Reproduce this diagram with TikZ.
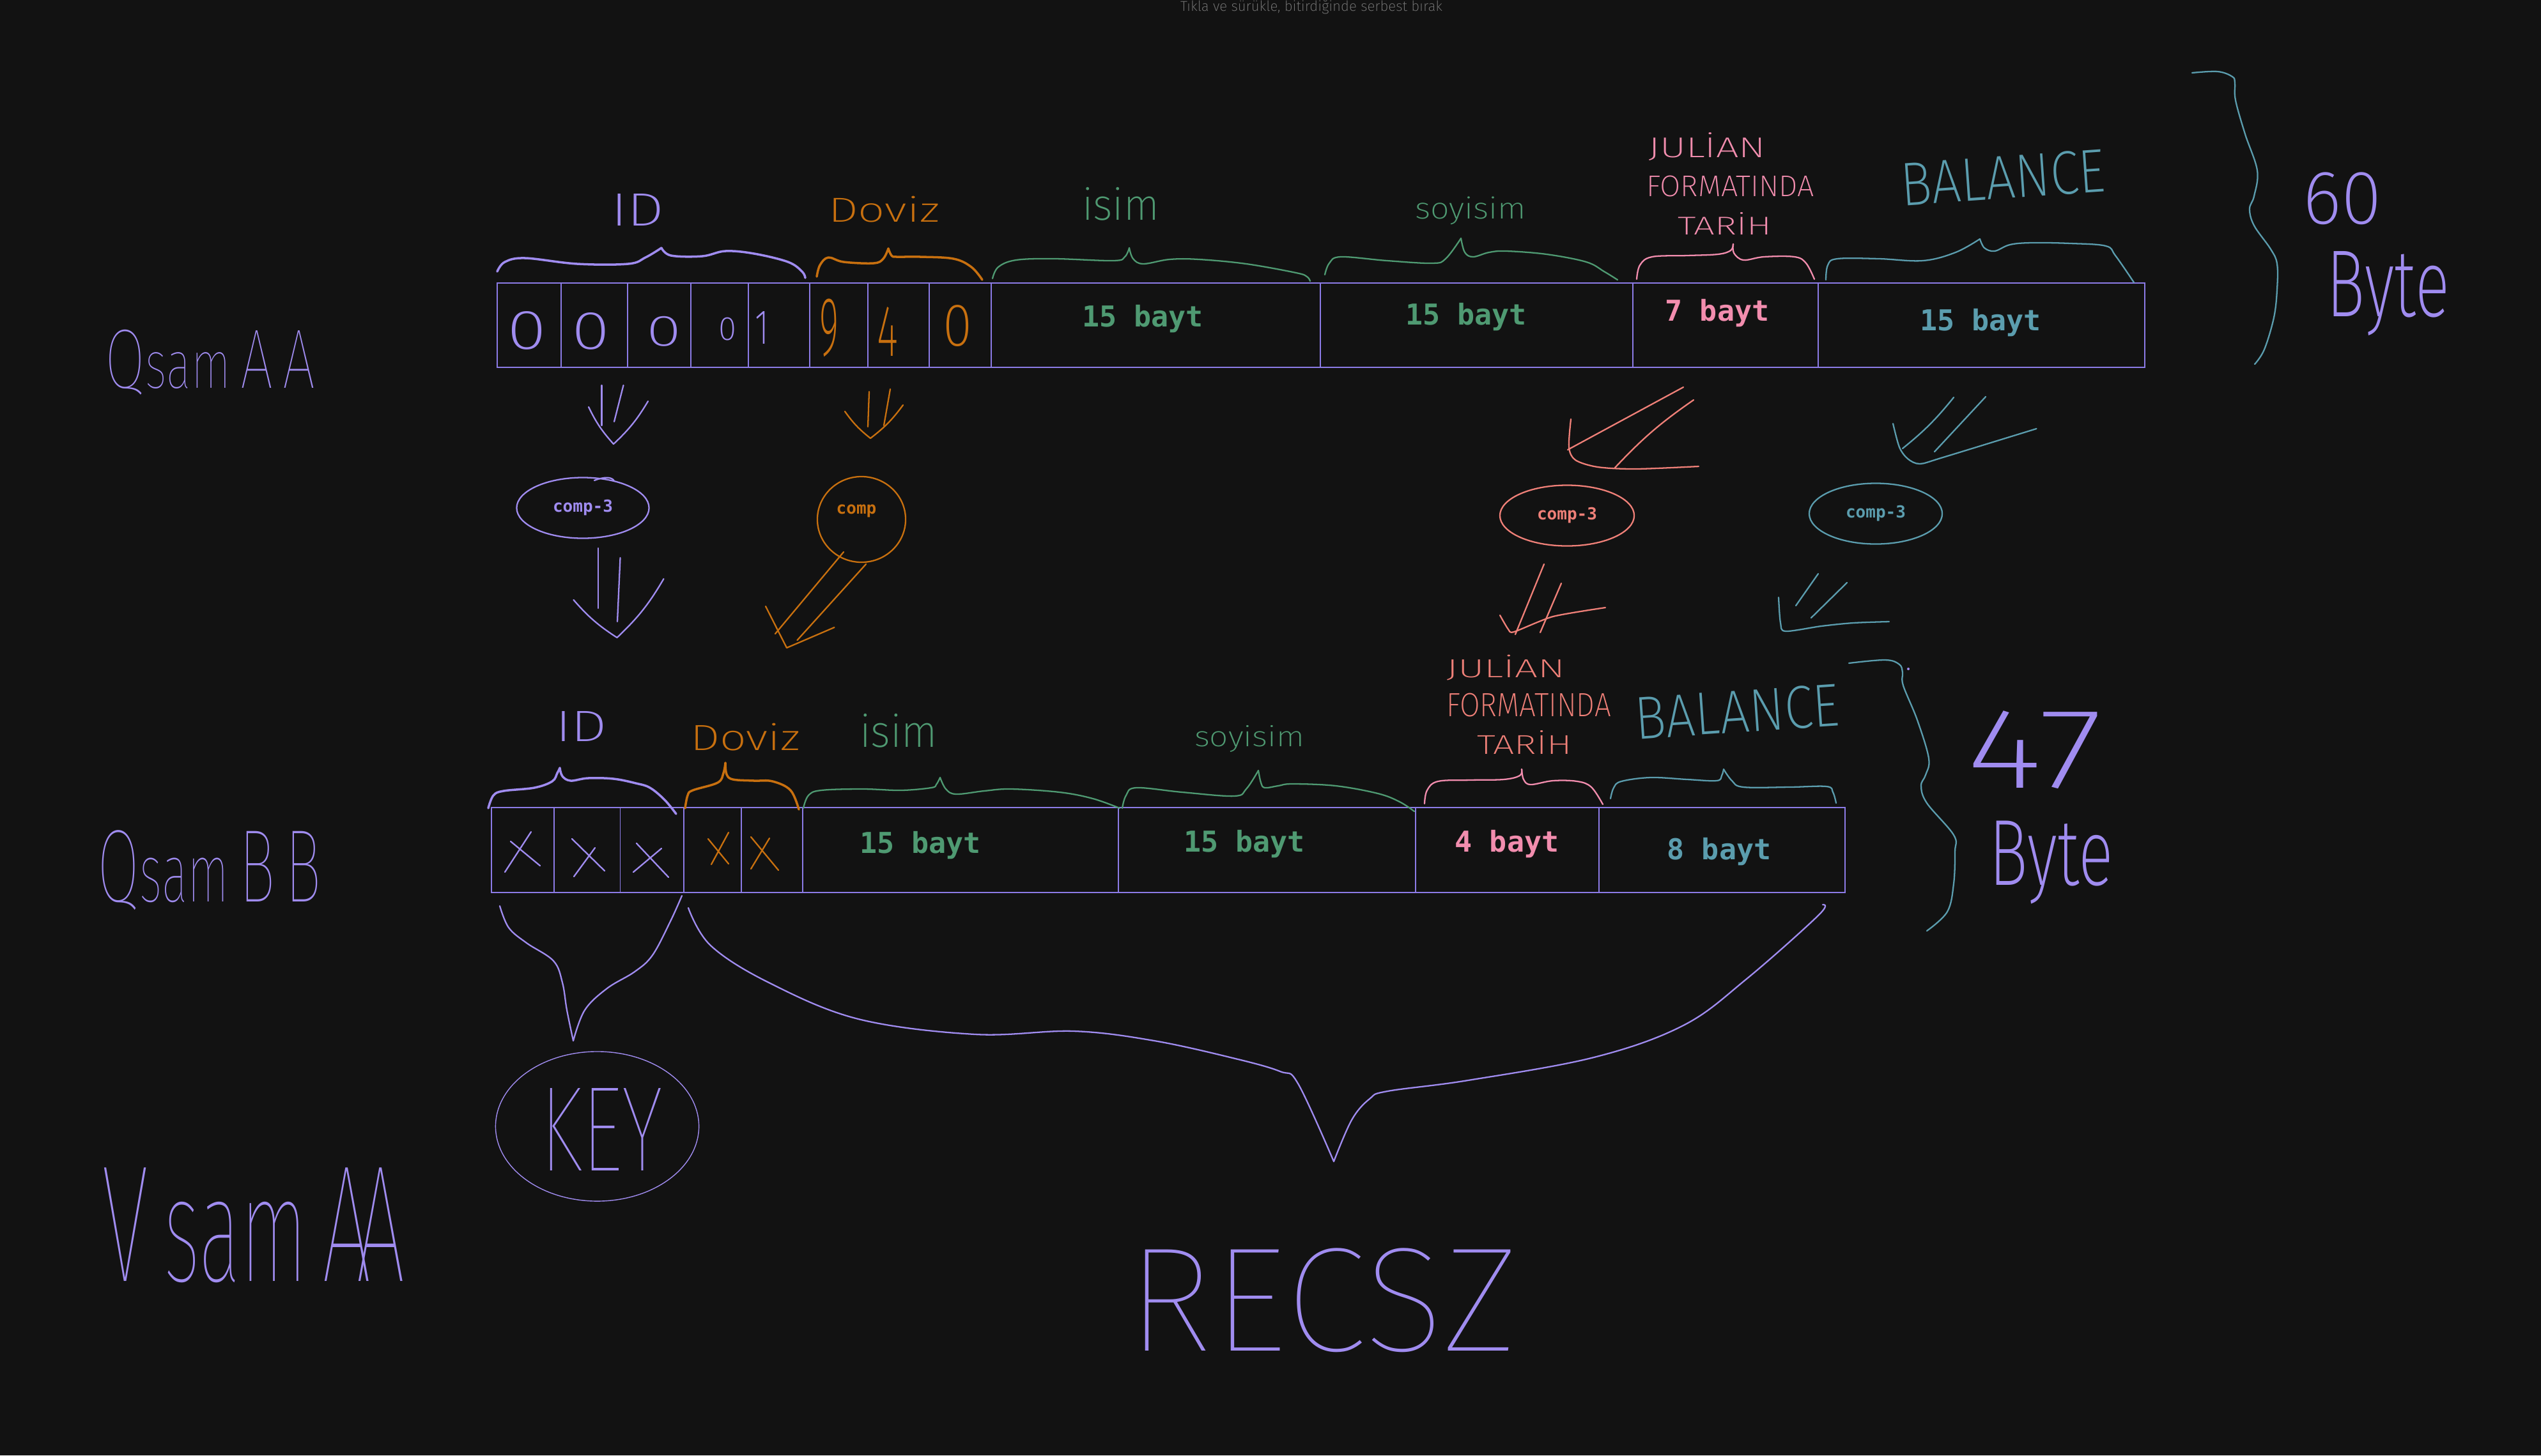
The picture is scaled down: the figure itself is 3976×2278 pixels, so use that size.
\documentclass[tikz,border=0pt]{standalone}
\usepackage{fontspec}
\usepackage{graphicx}
\usetikzlibrary{shapes.geometric}
\setmainfont{Fira Sans}
\IfFontExistsTF{Fira Sans ExtraLight}{\newfontfamily\hand{Fira Sans ExtraLight}}{%
  \IfFontExistsTF{Fira Sans Light}{\newfontfamily\hand{Fira Sans Light}}{%
    \IfFontExistsTF{Noto Sans Light}{\newfontfamily\hand{Noto Sans Light}}{\newfontfamily\hand{Fira Sans}}}}
\IfFontExistsTF{Fira Sans Thin}{\newfontfamily\handthin{Fira Sans Thin}}{%
  \IfFontExistsTF{Fira Sans ExtraLight}{\newfontfamily\handthin{Fira Sans ExtraLight}}{\let\handthin\hand}}
\newfontfamily\monof{DejaVu Sans Mono}
\newdimen\upx \upx=0.01cm
\newcommand\hw[3]{\resizebox*{#1\upx}{#2\upx}{#3}}
\definecolor{bg}{HTML}{121212}
\definecolor{cpur}{HTML}{A08CF0}
\definecolor{cline}{HTML}{8C7BE6}
\definecolor{corg}{HTML}{C8700F}
\definecolor{cgrn}{HTML}{4F9A72}
\definecolor{cpink}{HTML}{F28DAE}
\definecolor{csal}{HTML}{EF8078}
\definecolor{cteal}{HTML}{5B9DAE}
\definecolor{ccap}{HTML}{7A7A7A}
\tikzset{
  hpen/.style={line width=0.65pt, line cap=round, line join=round},
  hthick/.style={line width=1.0pt, line cap=round, line join=round},
  lbl/.style={inner sep=0pt, outer sep=0pt},
  baytlbl/.style={lbl, anchor=base, font=\monof\bfseries\fontsize{12.8}{14}\selectfont},
  compnode/.style={ellipse, hpen, inner sep=0pt, font=\monof\bfseries\fontsize{7.4}{9}\selectfont},
  tframe/.style={line width=0.7pt, draw=cline},
  tdiv/.style={line width=0.35pt, draw=cline},
}
\begin{document}
\begin{tikzpicture}[x=0.01cm, y=-0.01cm]
\fill[bg] (0,0) rectangle (3976,2278);
\useasboundingbox (0,0) rectangle (3976,2278);

% caption at the top edge
\node[lbl, anchor=base, text=ccap] (caption) at (2052,17) {\resizebox{410\upx}{!}{\hand Tıkla ve sürükle, bitirdiğinde serbest bırak}};

% ---------- left row names ----------
\node[lbl, text=cpur] (qsamaa) at (329,567) {\hw{328}{102}{\handthin Q{\footnotesize sam}\,A\,A}};
\node[lbl, text=cpur] (qsambb) at (328,1362) {\hw{350}{125}{\handthin Q{\footnotesize sam}\,B\,B}};
\node[lbl, text=cpur] (vsamaa) at (397,1918) {\hw{474}{180}{\handthin V\,{\small sam}\,A\!A}};

% ---------- top table ----------
\draw[tframe] (778,443) rectangle (3356,575);
\foreach \x in {878,982,1081,1171,1267,1358,1454,1551,2066,2555,2845} \draw[tdiv] (\x,443) -- (\x,575);

\node[lbl, text=cpur] (d1) at (824.5,517) {\hw{62}{60}{\hand 0}};
\node[lbl, text=cpur] (d2) at (924,518) {\hw{60}{58}{\hand 0}};
\node[lbl, text=cpur] (d3) at (1039,518.5) {\hw{55}{47}{\hand 0}};
\node[lbl, text=cpur] (d4) at (1138,515) {\hw{28}{36}{\hand 0}};
\node[lbl, text=cpur] (d5) at (1192,512.5) {\hw{22}{51}{\hand 1}};
\node[lbl, text=corg] (d6) at (1297,513.5) {\hw{30}{91}{\hand 9}};
\node[lbl, text=corg] (d7) at (1388.5,518.5) {\hw{33}{77}{\hand 4}};
\node[lbl, text=corg] (d8) at (1498.5,510.5) {\hw{46}{65}{\hand 0}};

\node[baytlbl, text=cgrn] (ta1) at (1788,511) {15 bayt};
\node[baytlbl, text=cgrn] (ta2) at (2294,508) {15 bayt};
\node[baytlbl, text=cpink] (ta3) at (2687,502) {7 bayt};
\node[baytlbl, text=cteal] (ta4) at (3099,517) {15 bayt};

% top labels
\node[lbl, text=cpur] (lidA) at (997.5,328) {\hw{83}{50}{\hand ID}};
\node[lbl, text=corg] (ldovA) at (1383,327.5) {\hw{174}{41}{\hand Doviz}};
\node[lbl, text=cgrn] (lisA) at (1753.5,319) {\hw{121}{52}{\hand isim}};
\node[lbl, text=cgrn] (lsoyA) at (2301,330) {\hw{174}{44}{\hand soyisim}};
\node[lbl, text=cpink] (ljA1) at (2671,230) {\hw{184}{44}{\hand JULİAN}};
\node[lbl, text=cpink] (ljA2) at (2707.5,291.5) {\hw{263}{33}{\hand FORMATINDA}};
\node[lbl, text=cpink] (ljA3) at (2698.5,349.5) {\hw{147}{35}{\hand TARİH}};
\node[lbl, text=cteal, rotate=4] (lbalA) at (3134,278) {\hw{320}{68}{\hand BALANCE}};

% top braces
\draw[hthick, cpur] plot[smooth, tension=0.6] coordinates {(778,425) (790,410) (822,404) (903,413) (983,413) (1010,403) (1035,388)};
\draw[hthick, cpur] plot[smooth, tension=0.6] coordinates {(1035,388) (1050,400) (1099,401) (1135,393) (1180,397) (1233,410) (1255,425) (1260,435)};
\draw[hthick, corg] plot[smooth, tension=0.6] coordinates {(1278,433) (1283,415) (1296,403) (1320,410) (1367,412) (1382,405) (1390,389)};
\draw[hthick, corg] plot[smooth, tension=0.6] coordinates {(1390,389) (1395,400) (1403,402) (1440,402) (1492,405) (1520,418) (1537,438)};
\draw[hpen, cgrn] plot[smooth, tension=0.6] coordinates {(1553,436) (1562,418) (1590,407) (1650,405) (1742,408) (1760,402) (1767,388)};
\draw[hpen, cgrn] plot[smooth, tension=0.6] coordinates {(1767,388) (1773,405) (1789,413) (1830,406) (1876,406) (1950,413) (2028,427) (2045,433) (2050,440)};
\draw[hpen, cgrn] plot[smooth, tension=0.6] coordinates {(2073,430) (2080,412) (2098,402) (2170,408) (2241,412) (2262,405) (2286,373)};
\draw[hpen, cgrn] plot[smooth, tension=0.6] coordinates {(2286,373) (2292,395) (2305,402) (2330,395) (2357,393) (2420,398) (2482,410) (2510,425) (2531,438)};
\draw[hpen, cpink] plot[smooth, tension=0.6] coordinates {(2561,437) (2566,415) (2585,402) (2640,400) (2688,398) (2708,392) (2712,382)};
\draw[hpen, cpink] plot[smooth, tension=0.6] coordinates {(2712,382) (2713,396) (2728,407) (2760,402) (2808,402) (2826,412) (2839,437)};
\draw[hpen, cteal] plot[smooth, tension=0.6] coordinates {(2857,438) (2860,415) (2875,405) (2940,405) (3009,408) (3060,395) (3098,374)};
\draw[hpen, cteal] plot[smooth, tension=0.6] coordinates {(3098,374) (3105,388) (3121,393) (3145,383) (3179,380) (3240,381) (3295,385) (3310,400) (3339,442)};

% right brace + 60 Byte
\draw[hpen, cteal] plot[smooth, tension=0.6] coordinates {(3430,114) (3470,112) (3493,120) (3497,130) (3498,157) (3513,210) (3532,267) (3527,307) (3520,327) (3527,353) (3553,390) (3563,413) (3563,453) (3558,497) (3543,547) (3528,570)};
\node[lbl, text=cpur] (n60) at (3665,311) {\hw{124}{82}{\hand 60}};
\node[lbl, text=cpur] (byteA) at (3736.5,459) {\hw{193}{132}{\hand Byte}};

% ---------- middle: arrows and comp ----------
\draw[hpen, cpur] (941.5,603) -- (941.5,666);
\draw[hpen, cpur] (975.5,603) -- (961,660);
\draw[hpen, cpur] (921,637) to[bend right=8] (960,695) to[bend right=8] (1014,628);
\draw[hpen, corg] (1360,613) -- (1358,668);
\draw[hpen, corg] (1393,609) -- (1383,666);
\draw[hpen, corg] (1322,644) to[bend right=8] (1362,686) to[bend right=8] (1413,634);

\node[compnode, draw=cpur, text=cpur, minimum width=2.07cm, minimum height=0.95cm] (comp1) at (912,795) {comp-3};
\draw[hpen, cpur] (930,752) .. controls (945,746) and (958,746) .. (961,753);
\node[ellipse, hpen, draw=corg, minimum width=1.38cm, minimum height=1.34cm, inner sep=0pt] (comp2) at (1348,813) {};
\node[lbl, text=corg, font=\monof\bfseries\fontsize{7.4}{9}\selectfont] (comp2t) at (1340,800) {comp};
\node[compnode, draw=csal, text=csal, minimum width=2.1cm, minimum height=0.95cm] (comp3) at (2452,807) {comp-3};
\node[compnode, draw=cteal, text=cteal, minimum width=2.08cm, minimum height=0.95cm] (comp4) at (2935,804) {comp-3};

\draw[hpen, cpur] (936,858) -- (936,952);
\draw[hpen, cpur] (970.5,873) -- (966,973);
\draw[hpen, cpur] (897.5,939) to[bend right=8] (965.5,998) to[bend right=8] (1038.5,906);
\draw[hpen, corg] (1320,864) -- (1213,992);
\draw[hpen, corg] (1355,883) -- (1247.5,1002);
\draw[hpen, corg] (1198,949) -- (1231,1014) -- (1305.5,982);

\draw[hpen, csal] (2634,606) -- (2453,704);
\draw[hpen, csal] (2650,626) to[bend right=6] (2527,732);
\draw[hpen, csal] plot[smooth, tension=0.5] coordinates {(2458,656) (2455,700) (2465,720) (2500,731) (2560,734) (2658,730)};
\draw[hpen, csal] (2416,883) -- (2371,993);
\draw[hpen, csal] (2443,913) -- (2410,990);
\draw[hpen, csal] plot[smooth, tension=0.4] coordinates {(2347,963) (2360,985) (2369,989) (2430,965) (2512,951)};

\draw[hpen, cteal] (3057,622) to[bend left=6] (2977,702);
\draw[hpen, cteal] (3107,621) -- (3027,707);
\draw[hpen, cteal] plot[smooth, tension=0.5] coordinates {(2962,663) (2972,700) (2985,718) (3004,726) (3040,716) (3186.5,671)};
\draw[hpen, cteal] (2845,898) -- (2810,948);
\draw[hpen, cteal] (2890,912) -- (2834,967);
\draw[hpen, cteal] plot[smooth, tension=0.5] coordinates {(2783,935) (2786,975) (2794,988) (2850,980) (2900,975) (2956,973)};

% ---------- bottom table ----------
\draw[tframe] (769,1264) rectangle (2887,1397);
\foreach \x in {867,970.5,1070,1160,1256,1750,2215,2502} \draw[tdiv] (\x,1264) -- (\x,1397);

\draw[hpen, cpur] (831,1302) -- (790,1365) (799,1317) -- (845,1355);
\draw[hpen, cpur] (931,1327) -- (898,1372) (895,1313) -- (946,1363);
\draw[hpen, cpur] (1035,1328) -- (991,1365) (996,1320) -- (1046,1373);
\draw[hpen, corg] (1140,1303) -- (1113,1353) (1108,1313) -- (1140,1352);
\draw[hpen, corg] (1204,1312) -- (1175,1360) (1175,1310) -- (1218,1362);

\node[baytlbl, text=cgrn] (tb1) at (1440,1335) {15 bayt};
\node[baytlbl, text=cgrn] (tb2) at (1947,1333) {15 bayt};
\node[baytlbl, text=cpink] (tb3) at (2358,1333) {4 bayt};
\node[baytlbl, text=cteal] (tb4) at (2690,1345) {8 bayt};

% bottom labels
\node[lbl, text=cpur] (lidB) at (909.5,1136.5) {\hw{81}{47}{\hand ID}};
\node[lbl, text=corg] (ldovB) at (1166,1153.5) {\hw{172}{43}{\hand Doviz}};
\node[lbl, text=cgrn] (lisB) at (1406,1143.5) {\hw{122}{53}{\hand isim}};
\node[lbl, text=cgrn] (lsoyB) at (1955,1156) {\hw{172}{42}{\hand soyisim}};
\node[lbl, text=csal] (ljB1) at (2356,1045) {\hw{186}{40}{\hand JULİAN}};
\node[lbl, text=csal] (ljB2) at (2392,1103.5) {\hw{258}{37}{\hand FORMATINDA}};
\node[lbl, text=csal] (ljB3) at (2385.5,1161.5) {\hw{149}{37}{\hand TARİH}};
\node[lbl, text=cteal, rotate=4] (lbalB) at (2718,1114) {\hw{320}{67}{\hand BALANCE}};

% bottom braces
\draw[hthick, cpur] plot[smooth, tension=0.6] coordinates {(764,1265) (772,1245) (788,1238) (836,1233) (864,1223) (872,1210) (876,1202)};
\draw[hthick, cpur] plot[smooth, tension=0.6] coordinates {(876,1202) (880,1215) (893,1222) (920,1218) (960,1219) (995,1226) (1017,1233) (1040,1252) (1058,1274)};
\draw[hthick, corg] plot[smooth, tension=0.6] coordinates {(1072,1265) (1076,1245) (1084,1237) (1123,1225) (1132,1210) (1135,1194)};
\draw[hthick, corg] plot[smooth, tension=0.6] coordinates {(1135,1194) (1137,1212) (1147,1220) (1180,1222) (1209,1223) (1237,1237) (1250,1267)};
\draw[hpen, cgrn] plot[smooth, tension=0.6] coordinates {(1257,1265) (1265,1245) (1285,1237) (1350,1235) (1410,1237) (1457,1233) (1465,1228) (1471,1217)};
\draw[hpen, cgrn] plot[smooth, tension=0.6] coordinates {(1471,1217) (1480,1235) (1496,1243) (1540,1238) (1582,1235) (1658,1240) (1710,1250) (1752,1265)};
\draw[hpen, cgrn] plot[smooth, tension=0.6] coordinates {(1756,1265) (1762,1245) (1778,1233) (1850,1240) (1931,1246) (1950,1235) (1969,1206)};
\draw[hpen, cgrn] plot[smooth, tension=0.6] coordinates {(1969,1206) (1973,1225) (1979,1233) (2000,1230) (2022,1227) (2090,1230) (2156,1242) (2190,1255) (2213,1270)};
\draw[hpen, cpink] plot[smooth, tension=0.6] coordinates {(2229,1258) (2233,1237) (2250,1223) (2300,1221) (2353,1220) (2378,1214) (2381,1204)};
\draw[hpen, cpink] plot[smooth, tension=0.6] coordinates {(2381,1204) (2384,1220) (2395,1228) (2430,1222) (2468,1223) (2490,1232) (2508,1259)};
\draw[hpen, cteal] plot[smooth, tension=0.6] coordinates {(2520,1250) (2525,1233) (2537,1223) (2583,1217) (2640,1220) (2686,1222) (2694,1214) (2697,1204)};
\draw[hpen, cteal] plot[smooth, tension=0.6] coordinates {(2697,1204) (2710,1222) (2728,1232) (2800,1232) (2858,1231) (2868,1240) (2873,1257)};

% right brace + 47 Byte
\draw[hpen, cteal] plot[smooth, tension=0.6] coordinates {(2893,1038) (2950,1033) (2972,1040) (2977,1053) (2978,1073) (3000,1127) (3018,1187) (3013,1213) (3006,1230) (3015,1257) (3057,1307) (3059,1333) (3057,1383) (3047,1427) (3015,1457)};
\fill[cpur] (2986,1047) circle (2);
\node[lbl, text=cpur] (n47) at (3183.5,1174) {\hw{213}{122}{\hand 47}};
\node[lbl, text=cpur] (byteB) at (3209.5,1350) {\hw{195}{130}{\hand Byte}};

% ---------- KEY and RECSZ ----------
\draw[hpen, cpur] plot[smooth, tension=0.6] coordinates {(782,1418) (796,1452) (824,1476) (866,1504) (880,1538) (887,1581) (897,1629)};
\draw[hpen, cpur] plot[smooth, tension=0.6] coordinates {(1067,1402) (1049,1442) (1021,1495) (993,1521) (950,1547) (915,1581) (897,1629)};
\node[ellipse, draw=cpur, line width=0.4pt, minimum width=3.18cm, minimum height=2.34cm, inner sep=0pt] (keyell) at (934.5,1763) {};
\node[lbl, text=cpur] (keytxt) at (941,1767.5) {\hw{192}{129}{\handthin KEY}};

\draw[hpen, cpur] plot[smooth, tension=0.6] coordinates {(1077,1421) (1112,1480) (1203,1538) (1343,1595) (1526,1619) (1680,1614) (1806,1629) (1933,1657) (2003,1677) (2031,1696) (2087,1818)};
\draw[hpen, cpur] plot[smooth, tension=0.6] coordinates {(2087,1818) (2115,1753) (2143,1720) (2171,1708) (2297,1691) (2494,1655) (2634,1605) (2732,1533) (2845,1433) (2852,1416)};
\node[lbl, text=cpur] (recsz) at (2069.5,2035.5) {\hw{611}{163}{\handthin RECSZ}};
\end{tikzpicture}
\end{document}
